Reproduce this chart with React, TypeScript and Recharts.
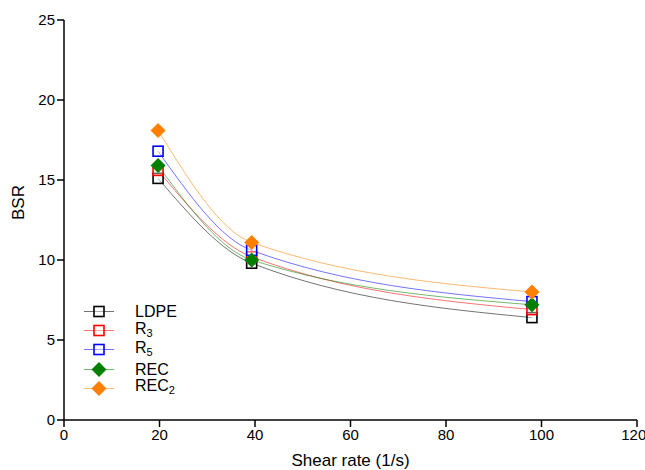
import React from 'react';
import { LineChart, Line, XAxis, YAxis } from 'recharts';

// shear rate (1/s)
const shearRate = [19.7, 39.3, 98];
const ldpe = [15.1, 9.8, 6.4];
const r3 = [15.6, 10.2, 6.9];
const r5 = [16.8, 10.6, 7.4];
const rec = [15.9, 10.0, 7.2];
const rec2 = [18.1, 11.1, 8.0];

const xTicks = [0, 20, 40, 60, 80, 100, 120];
const yTicks = [0, 5, 10, 15, 20, 25];

const data = shearRate.map((x, i) => ({
  x,
  ldpe: ldpe[i],
  r3: r3[i],
  r5: r5[i],
  rec: rec[i],
  rec2: rec2[i],
}));

type Shape = 'square' | 'diamond';

const series: { key: string; name: string; sub?: string; color: string; shape: Shape }[] = [
  { key: 'ldpe', name: 'LDPE', color: '#000000', shape: 'square' },
  { key: 'r3', name: 'R', sub: '3', color: '#ff0000', shape: 'square' },
  { key: 'r5', name: 'R', sub: '5', color: '#0000ff', shape: 'square' },
  { key: 'rec', name: 'REC', color: '#007f00', shape: 'diamond' },
  { key: 'rec2', name: 'REC', sub: '2', color: '#ff7f00', shape: 'diamond' },
];

const FONT = '"Liberation Sans", Arial, sans-serif';

const Marker = ({ cx, cy, color, shape }: { cx: number; cy: number; color: string; shape: Shape }) => {
  if (shape === 'square') {
    return <rect x={cx - 5} y={cy - 5} width={10} height={10} fill="#fff" fillOpacity={0.4} stroke={color} strokeWidth={1.6} />;
  }
  return (
    <polygon
      points={`${cx},${cy - 7.5} ${cx + 7.5},${cy} ${cx},${cy + 7.5} ${cx - 7.5},${cy}`}
      fill={color}
    />
  );
};

const LegendBox = () => (
  <div style={{ position: 'absolute', left: 84, top: 302, fontFamily: FONT, fontSize: 16, color: '#000' }}>
    {series.map((s) => (
      <div key={s.key} style={{ display: 'flex', alignItems: 'center', height: 19.2 }}>
        <svg width={51} height={19} style={{ display: 'block' }}>
          <line x1={0} y1={9.5} x2={30} y2={9.5} stroke={s.color} strokeOpacity={0.55} strokeWidth={1} />
          <Marker cx={15} cy={9.5} color={s.color} shape={s.shape} />
        </svg>
        <span style={{ lineHeight: '19px' }}>
          {s.name}
          {s.sub && <sub style={{ fontSize: 11, verticalAlign: -3 }}>{s.sub}</sub>}
        </span>
      </div>
    ))}
  </div>
);

export default function App() {
  return (
    <div style={{ position: 'absolute', left: 0, top: 0, width: 645, height: 470, background: '#fff' }}>
      <LineChart width={645} height={470} data={data} margin={{ top: 20, right: 8, left: 0, bottom: 0 }}>
        <XAxis
          dataKey="x"
          type="number"
          domain={[0, 120]}
          ticks={xTicks}
          height={50}
          stroke="#000"
          strokeWidth={1.5}
          tickSize={7}
          tick={{ fill: '#000', fontSize: 15, fontFamily: FONT }}
          label={{ value: 'Shear rate (1/s)', position: 'insideBottom', offset: 4, fill: '#000', fontSize: 17, fontFamily: FONT }}
        />
        <YAxis
          type="number"
          domain={[0, 25]}
          ticks={yTicks}
          width={64}
          stroke="#000"
          strokeWidth={1.5}
          tickSize={7}
          tick={{ fill: '#000', fontSize: 15, fontFamily: FONT }}
          label={{ value: 'BSR', angle: -90, position: 'insideLeft', offset: 18, fill: '#000', fontSize: 17, fontFamily: FONT }}
        />
        {series.map((s) => (
          <Line
            key={s.key}
            dataKey={s.key}
            name={s.name}
            type="monotone"
            stroke={s.color}
            strokeOpacity={0.55}
            strokeWidth={1}
            isAnimationActive={false}
            dot={(p: any) => <Marker key={`${s.key}-${p.index}`} cx={p.cx} cy={p.cy} color={s.color} shape={s.shape} />}
            activeDot={false}
          />
        ))}
      </LineChart>
      <LegendBox />
    </div>
  );
}
